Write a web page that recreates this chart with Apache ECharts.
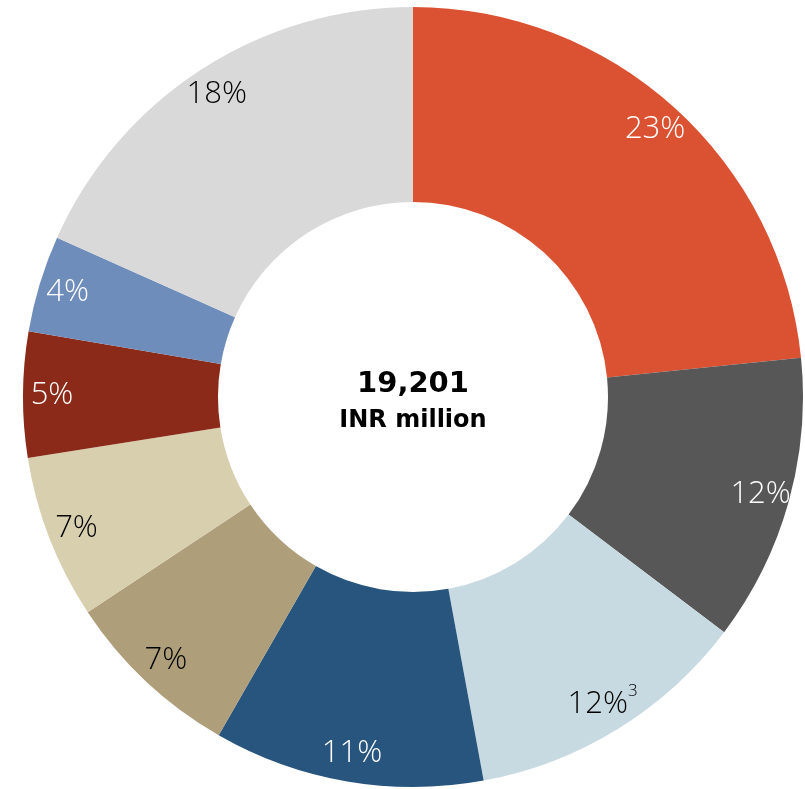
<!DOCTYPE html>
<html>
<head>
<meta charset="utf-8">
<script src="https://cdn.jsdelivr.net/npm/echarts@6/dist/echarts.min.js"></script>
<style>html,body{margin:0;padding:0;background:#fff;}#c{width:805px;height:789px;}</style>
</head>
<body>
<div id="c"></div>
<script>
var categories = ['A','B','C','D','E','F','G','H','I'];
var values = [23.4, 11.9, 11.8, 11.2, 7.4, 6.8, 5.2, 4.0, 18.3];
var colors = ['#DB5233','#575757','#C8DAE1','#27557D','#AE9F7A','#D8CFAF','#8B2A18','#6E8DBA','#D9D9D9'];
var labelColors = ['#fff','#fff','#000','#fff','#000','#000','#fff','#fff','#000'];
var superscripts = ['','','3','','','','','',''];
var totalText = '19,201';
var unitText = 'INR million';

var chart = echarts.init(document.getElementById('c'));
var data = categories.map(function(c,i){ return {name:c, value:values[i], itemStyle:{color:colors[i]}}; });
var labelData = categories.map(function(c,i){
  return {name:c, value:values[i], label:{color:labelColors[i]}};
});
chart.setOption({
  animation:false,
  series:[
    {
      type:'pie', center:[413,397], radius:[195,390], startAngle:90, clockwise:true,
      data:data, label:{show:false}, labelLine:{show:false}, silent:true,
      itemStyle:{borderWidth:0}
    },
    {
      type:'pie', center:[413,397], radius:[333,383], startAngle:90, clockwise:true,
      data:labelData, silent:true,
      itemStyle:{color:'rgba(0,0,0,0)'},
      labelLine:{show:false},
      label:{
        show:true, position:'inside',
        formatter:function(p){
          var s = superscripts[p.dataIndex];
          var t = '{a|' + Math.round(p.value) + '%}';
          if (s) t += '{sup|' + s + '}';
          return t;
        },
        rich:{
          a:{fontFamily:'Open Sans', fontWeight:300, fontSize:31},
          sup:{fontFamily:'Open Sans', fontWeight:300, fontSize:17, padding:[0,0,26,0]}
        }
      }
    }
  ],
  graphic:[
    {type:'text', style:{text:totalText, x:413, y:384, textAlign:'center', textVerticalAlign:'middle', fontFamily:'DejaVu Sans', fontWeight:'bold', fontSize:29, fill:'#000'}},
    {type:'text', style:{text:unitText, x:413, y:421, textAlign:'center', textVerticalAlign:'middle', fontFamily:'DejaVu Sans', fontWeight:'bold', fontSize:24, fill:'#000'}}
  ]
});
</script>
</body>
</html>
